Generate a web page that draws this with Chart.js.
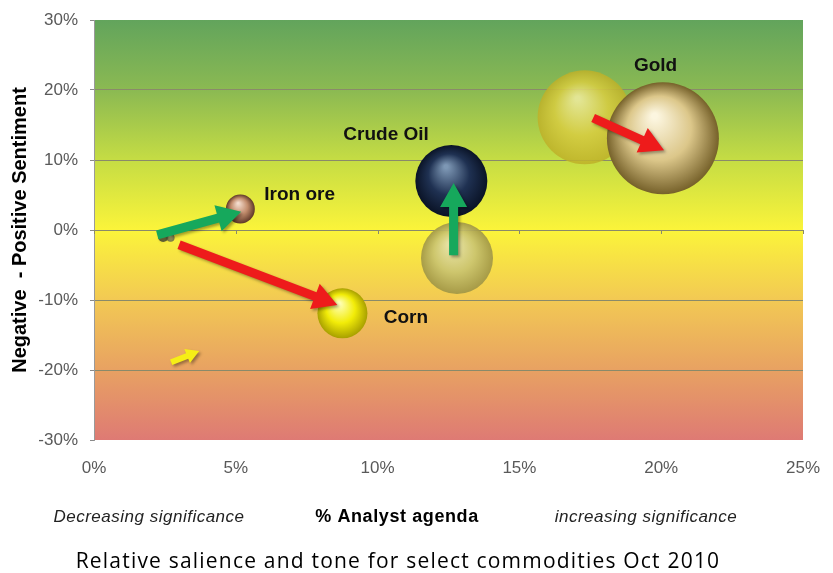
<!DOCTYPE html>
<html>
<head>
<meta charset="utf-8">
<script src="https://cdn.jsdelivr.net/npm/chart.js@4"></script>
<style>
  html, body { margin: 0; padding: 0; background: #ffffff; }
  canvas { display: block; }
</style>
</head>
<body>
<canvas id="salienceChart" width="833" height="573"></canvas>
<script>
// commodities, Oct 2010 position (x = % analyst agenda, y = sentiment %, r = bubble size)
const commodities = ["Gold", "Crude Oil", "Iron ore", "Corn"];
const agendaNow = [20.06, 12.6, 5.16, 8.76];
const toneNow = [13.1, 7.0, 3.0, -11.9];
const sizeNow = [56, 36, 14.5, 25];

// previous period positions
const agendaPrev = [17.3, 12.8, 2.44, 2.7];
const tonePrev = [16.1, -4.0, -1.0, -1.1];
const sizePrev = [47, 36, 5, 4];

// movement arrows (from -> to)
const arrowFromX = [17.6, 12.68, 2.23, 3.0, 2.72];
const arrowFromY = [16.0, -3.6, -0.7, -2.1, -18.9];
const arrowToX = [20.1, 12.68, 5.19, 8.58, 3.71];
const arrowToY = [11.4, 6.7, 2.6, -10.7, -17.3];
const arrowTone = ["down", "up", "up", "down", "flat"];

// label anchors
const labelX = [19.8, 10.3, 7.25, 11.0];
const labelY = [23.4, 13.6, 5.0, -12.6];

const xTicks = [0, 5, 10, 15, 20, 25];
const yTicks = [-30, -20, -10, 0, 10, 20, 30];

const nowStyles = [
  { hi: "#fcf6e0", mid: "#dcc78a", lo: "#76612a" },
  { hi: "#7d97b4", mid: "#1f3152", lo: "#0a1326" },
  { hi: "#f3dccd", mid: "#c28c6c", lo: "#5e3828" },
  { hi: "#ffffb8", mid: "#f2ec08", lo: "#a8a000" }
];
const prevStyles = [
  { hi: "rgba(240,236,160,0.85)", mid: "rgba(216,204,64,0.85)", lo: "rgba(190,176,40,0.85)" },
  { hi: "rgba(232,228,178,0.92)", mid: "rgba(202,196,112,0.92)", lo: "rgba(160,150,70,0.92)" },
  { hi: "rgba(170,170,110,0.9)", mid: "rgba(120,120,70,0.9)", lo: "rgba(80,80,50,0.9)" },
  { hi: "rgba(170,170,140,0.8)", mid: "rgba(130,130,100,0.8)", lo: "rgba(90,90,70,0.8)" }
];
const arrowColors = { down: "#ee1b1b", up: "#16a85c", flat: "#f6ee16" };

function sphereFill(styles) {
  return function (context) {
    const chart = context.chart;
    const raw = context.raw;
    const c = styles[context.dataIndex];
    if (!raw || !chart.scales || !chart.scales.x || !chart.scales.y) return c.mid;
    const x = chart.scales.x.getPixelForValue(raw.x);
    const y = chart.scales.y.getPixelForValue(raw.y);
    const r = raw.r;
    if (!isFinite(x) || !isFinite(y) || !isFinite(r)) return c.mid;
    const g = chart.ctx.createRadialGradient(x - r * 0.15, y - r * 0.4, r * 0.05, x, y, r);
    g.addColorStop(0, c.hi);
    g.addColorStop(0.55, c.mid);
    g.addColorStop(1, c.lo);
    return g;
  };
}

function drawArrow(ctx, x1, y1, x2, y2, color, shaft, headLen, headW) {
  const a = Math.atan2(y2 - y1, x2 - x1);
  const len = Math.hypot(x2 - x1, y2 - y1);
  ctx.save();
  ctx.translate(x1, y1);
  ctx.rotate(a);
  ctx.shadowColor = "rgba(0,0,0,0.35)";
  ctx.shadowBlur = 3;
  ctx.shadowOffsetX = 2;
  ctx.shadowOffsetY = 2;
  ctx.fillStyle = color;
  ctx.beginPath();
  ctx.moveTo(0, -shaft / 2);
  ctx.lineTo(len - headLen, -shaft / 2);
  ctx.lineTo(len - headLen, -headW / 2);
  ctx.lineTo(len, 0);
  ctx.lineTo(len - headLen, headW / 2);
  ctx.lineTo(len - headLen, shaft / 2);
  ctx.lineTo(0, shaft / 2);
  ctx.closePath();
  ctx.fill();
  ctx.restore();
}

const backdrop = {
  id: "backdrop",
  beforeDraw(chart) {
    const { ctx, chartArea: a } = chart;
    const g = ctx.createLinearGradient(0, a.top, 0, a.bottom);
    g.addColorStop(0, "#62a45c");
    g.addColorStop(0.17, "#8cba52");
    g.addColorStop(0.33, "#c4dc44");
    g.addColorStop(0.5, "#fbf43a");
    g.addColorStop(0.67, "#f2c854");
    g.addColorStop(0.83, "#e8a262");
    g.addColorStop(1, "#de7a74");
    ctx.save();
    ctx.fillStyle = g;
    ctx.fillRect(a.left, a.top, a.right - a.left, a.bottom - a.top);
    ctx.restore();
  },
  afterDatasetsDraw(chart) {
    const { ctx, scales: { x, y } } = chart;
    // small ticks along the 0% line
    const y0 = y.getPixelForValue(0);
    ctx.save();
    ctx.strokeStyle = "#8a8a6a";
    ctx.lineWidth = 1;
    xTicks.forEach(function (t) {
      const px = Math.round(x.getPixelForValue(t)) + 0.5;
      ctx.beginPath();
      ctx.moveTo(px, y0);
      ctx.lineTo(px, y0 + 4);
      ctx.stroke();
    });
    ctx.restore();
    for (let i = 0; i < arrowFromX.length; i++) {
      const small = arrowTone[i] === "flat";
      drawArrow(ctx,
        x.getPixelForValue(arrowFromX[i]), y.getPixelForValue(arrowFromY[i]),
        x.getPixelForValue(arrowToX[i]), y.getPixelForValue(arrowToY[i]),
        arrowColors[arrowTone[i]],
        small ? 6 : 9, small ? 13 : 24, small ? 15 : 27);
    }
    ctx.save();
    ctx.fillStyle = "#111111";
    ctx.font = "bold 19px 'Liberation Sans', Arial, sans-serif";
    ctx.textAlign = "center";
    ctx.textBaseline = "middle";
    commodities.forEach(function (name, i) {
      ctx.fillText(name, x.getPixelForValue(labelX[i]), y.getPixelForValue(labelY[i]));
    });
    ctx.restore();
  },
  afterDraw(chart) {
    const ctx = chart.ctx;
    ctx.save();
    ctx.textBaseline = "middle";
    ctx.textAlign = "center";
    ctx.fillStyle = "#222222";
    ctx.letterSpacing = "0.5px";
    ctx.font = "italic 17px 'Liberation Sans', Arial, sans-serif";
    ctx.fillText("Decreasing significance", 149, 517);
    ctx.fillText("increasing significance", 646, 517);
    ctx.fillStyle = "#000000";
    ctx.letterSpacing = "0.6px";
    ctx.font = "bold 18px 'Liberation Sans', Arial, sans-serif";
    ctx.fillText("% Analyst agenda", 397, 517);
    ctx.letterSpacing = "1.2px";
    ctx.font = "21px 'Open Sans', sans-serif";
    ctx.fillText("Relative salience and tone for select commodities Oct 2010", 398, 562);
    ctx.restore();
  }
};

new Chart(document.getElementById("salienceChart"), {
  type: "bubble",
  data: {
    datasets: [
      {
        label: "Oct 2010",
        data: commodities.map(function (c, i) { return { x: agendaNow[i], y: toneNow[i], r: sizeNow[i] }; }),
        backgroundColor: sphereFill(nowStyles),
        borderWidth: 0
      },
      {
        label: "Previous",
        data: commodities.map(function (c, i) { return { x: agendaPrev[i], y: tonePrev[i], r: sizePrev[i] }; }),
        backgroundColor: sphereFill(prevStyles),
        borderWidth: 0
      }
    ]
  },
  plugins: [backdrop],
  options: {
    responsive: false,
    animation: false,
    events: [],
    layout: { autoPadding: false, padding: { top: 20, right: 30, left: 0, bottom: 0 } },
    plugins: {
      legend: { display: false },
      tooltip: { enabled: false }
    },
    scales: {
      x: {
        type: "linear",
        min: 0,
        max: 25,
        afterBuildTicks: function (scale) { scale.ticks = xTicks.map(function (v) { return { value: v }; }); },
        afterFit: function (scale) {
          scale.height = 133;
          scale.paddingLeft = 0;
          scale.paddingRight = 0;
        },
        grid: { display: false, drawTicks: false },
        border: { display: false },
        ticks: {
          padding: 18,
          color: "#595959",
          font: { family: "'Liberation Sans', Arial, sans-serif", size: 17 },
          callback: function (v) { return v + "%"; }
        }
      },
      y: {
        type: "linear",
        min: -30,
        max: 30,
        afterBuildTicks: function (scale) { scale.ticks = yTicks.map(function (v) { return { value: v }; }); },
        afterFit: function (scale) {
          scale.width = 94;
          scale.paddingTop = 0;
          scale.paddingBottom = 0;
        },
        grid: {
          color: function (ctx) { return ctx.tick && Math.abs(ctx.tick.value) === 30 ? "rgba(0,0,0,0)" : "#8a8a6a"; },
          tickColor: "#8a8a8a",
          tickLength: 4
        },
        border: { display: true, color: "#9a9a9a" },
        ticks: {
          padding: 12,
          color: "#595959",
          font: { family: "'Liberation Sans', Arial, sans-serif", size: 17 },
          callback: function (v) { return v + "%"; }
        },
        title: {
          display: true,
          text: "Negative  - Positive Sentiment",
          color: "#000000",
          padding: { top: 8, bottom: 0 },
          font: { family: "'Liberation Sans', Arial, sans-serif", size: 20, weight: "bold" }
        }
      }
    }
  }
});
</script>
</body>
</html>
